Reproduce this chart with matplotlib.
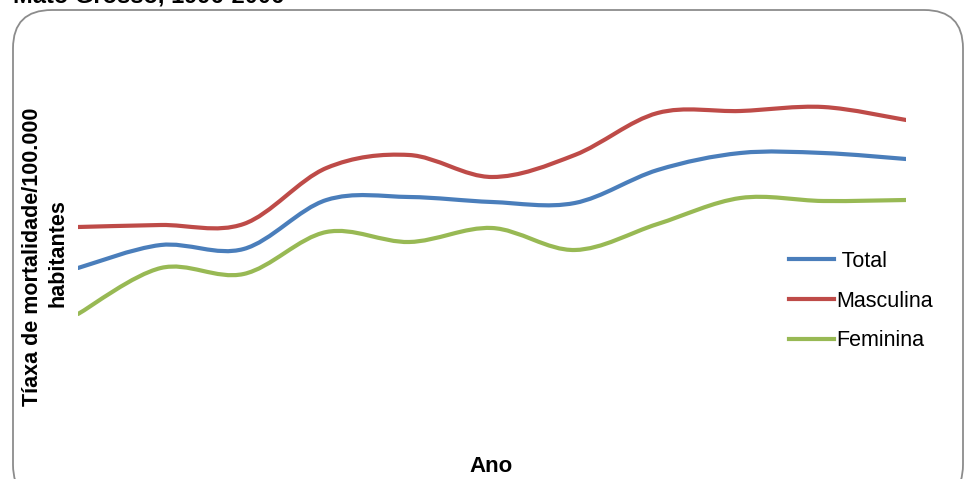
import matplotlib.pyplot as plt
from matplotlib.path import Path
from matplotlib.patches import PathPatch, FancyBboxPatch
from matplotlib.lines import Line2D

anos = list(range(1996, 2007))
total = [15.2, 17.5, 17.1, 22.0, 22.3, 21.8, 21.7, 25.0, 26.7, 26.7, 26.1]
masculina = [19.3, 19.5, 19.6, 25.2, 26.5, 24.3, 26.5, 30.7, 30.9, 31.3, 30.0]
feminina = [10.6, 15.2, 14.6, 18.8, 17.8, 19.2, 17.0, 19.6, 22.2, 21.9, 22.0]

series = [
    (" Total", total, "#4A7EBB"),
    ("Masculina", masculina, "#BE4B48"),
    ("Feminina", feminina, "#98B954"),
]


def linha_suave(x, y):
    # curva de Bezier no estilo "linha suavizada" do Excel
    n = len(x)
    verts = [(x[0], y[0])]
    codes = [Path.MOVETO]
    for i in range(n - 1):
        x0, y0 = (x[i - 1], y[i - 1]) if i > 0 else (x[i], y[i])
        x3, y3 = (x[i + 2], y[i + 2]) if i + 2 < n else (x[i + 1], y[i + 1])
        c1 = (x[i] + (x[i + 1] - x0) / 6, y[i] + (y[i + 1] - y0) / 6)
        c2 = (x[i + 1] - (x3 - x[i]) / 6, y[i + 1] - (y3 - y[i]) / 6)
        verts += [c1, c2, (x[i + 1], y[i + 1])]
        codes += [Path.CURVE4] * 3
    return Path(verts, codes)


plt.rcParams["font.family"] = ["Liberation Sans", "DejaVu Sans"]
fig = plt.figure(figsize=(9.7, 4.79), dpi=100)

# moldura arredondada
caixa = FancyBboxPatch((13 / 970, -0.05), 950 / 970, 1.0 - 10 / 479 + 0.05,
                       boxstyle="round,pad=0,rounding_size=0.04",
                       transform=fig.transFigure, facecolor="none",
                       edgecolor="#8c8c8c", linewidth=1.3, mutation_aspect=2.0)
fig.patches.append(caixa)

fig.text(13 / 970, 1.0 + 4 / 479, "Mato Grosso, 1996-2006", fontsize=17,
         fontweight="bold", ha="left", va="center")

ax = fig.add_axes([78 / 970, 59 / 479, 828 / 970, 360 / 479])
ax.set_xlim(anos[0], anos[-1])
ax.set_ylim(0, 36)
ax.axis("off")

handles = []
for nome, valores, cor in series:
    ax.add_patch(PathPatch(linha_suave(anos, valores), facecolor="none",
                           edgecolor=cor, linewidth=3, capstyle="round"))
    handles.append(Line2D([], [], color=cor, linewidth=3, label=nome))

fig.legend(handles=handles, loc="upper left", bbox_to_anchor=(780 / 970, 1 - 242 / 479),
           frameon=False, fontsize=15.5, handlelength=2.1, handletextpad=0.1,
           labelspacing=0.88, borderaxespad=0)

fig.text(33 / 970, 1 - 257 / 479, "Tíaxa de mortalidade/100.000", rotation=90,
         fontsize=15.5, fontweight="bold", ha="center", va="center")
fig.text(58 / 970, 1 - 253 / 479, "habitantes", rotation=90,
         fontsize=15.5, fontweight="bold", ha="center", va="center")
fig.text(491 / 970, 1 - 467 / 479, "Ano", fontsize=16, fontweight="bold",
         ha="center", va="center")

fig.savefig("out.png", dpi=100)
